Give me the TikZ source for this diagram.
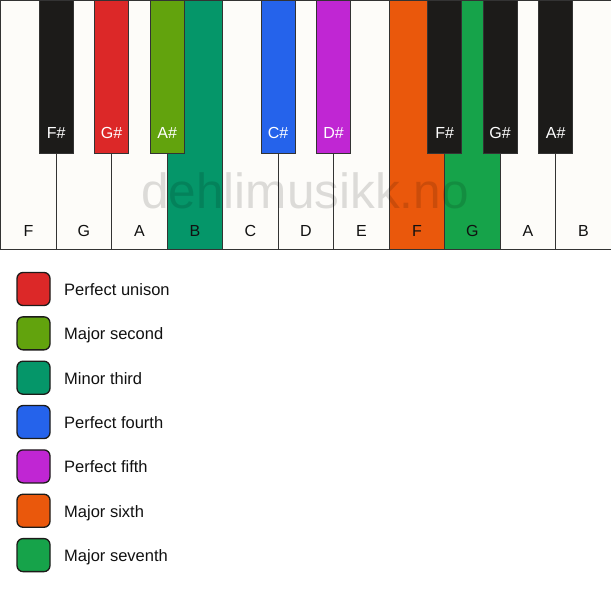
\documentclass[tikz,border=0pt]{standalone}
\usepackage{fontspec}
\setmainfont{Liberation Sans}
\usetikzlibrary{calc}
\definecolor{keyline}{HTML}{333333}
\definecolor{ivory}{HTML}{FDFCF9}
\definecolor{ebony}{HTML}{1C1B19}
\definecolor{cred}{HTML}{DC2828}
\definecolor{clime}{HTML}{62A30D}
\definecolor{cteal}{HTML}{059669}
\definecolor{cblue}{HTML}{2563EB}
\definecolor{cfuch}{HTML}{C026D3}
\definecolor{corange}{HTML}{EA580C}
\definecolor{cgreen}{HTML}{16A34A}
\definecolor{txt}{HTML}{111111}
\tikzset{
  wkey/.style={draw=keyline, line width=1.3pt, rectangle, anchor=north west, minimum width=55.5pt, minimum height=249pt, inner sep=0pt, outer sep=0pt},
  bkey/.style={draw=keyline, line width=1.3pt, rectangle, anchor=north, minimum width=34pt, minimum height=153pt, inner sep=0pt, outer sep=0pt},
  wlab/.style={font=\fontsize{16}{16}\selectfont, text=txt, anchor=base, inner sep=0pt},
  blab/.style={font=\fontsize{16}{16}\selectfont, text=white, anchor=base, inner sep=0pt},
  swatch/.style={draw=ebony, line width=1.3pt, rectangle, rounded corners=6pt, minimum width=33pt, minimum height=33pt, inner sep=0pt},
  legtext/.style={font=\fontsize{16.5}{16.5}\selectfont, text=txt, anchor=base west, inner sep=0pt},
  wmtext/.style={font=\fontsize{49.5}{49.5}\selectfont, text=black, text opacity=0.13, anchor=base, inner sep=0pt}
}
\begin{document}
\begin{tikzpicture}[x=1pt,y=-1pt]
\useasboundingbox (0,0) rectangle (611,594);
\fill[white] (0,0) rectangle (611,594);
% white keys
\foreach \i/\n/\c in {0/F/ivory,1/G/ivory,2/A/ivory,3/B/cteal,4/C/ivory,5/D/ivory,6/E/ivory,7/F/corange,8/G/cgreen,9/A/ivory,10/B/ivory}{
  \node[wkey, fill=\c] (w\i) at ({\i*55.5+0.65},0.65) {};
  \node[wlab] (wl\i) at ({\i*55.5+28.4},236) {\n};
}
% watermark
\node[wmtext] (wm) at (305,208) {dehlimusikk.no};
% black keys
\foreach \k/\n/\c in {1/F\#/ebony,2/G\#/cred,3/A\#/clime,5/C\#/cblue,6/D\#/cfuch,8/F\#/ebony,9/G\#/ebony,10/A\#/ebony}{
  \node[bkey, fill=\c] (b\k) at ({\k*55.5+0.65},0.65) {};
  \node[blab] (bl\k) at ({\k*55.5+0.65},139) {\n};
}
% legend
\foreach \j/\c/\t in {0/cred/Perfect unison,1/clime/Major second,2/cteal/Minor third,3/cblue/Perfect fourth,4/cfuch/Perfect fifth,5/corange/Major sixth,6/cgreen/Major seventh}{
  \node[swatch, fill=\c] (s\j) at (33.5,{289+\j*44.35}) {};
  \node[legtext] (t\j) at (64,{295.5+\j*44.35}) {\t};
}
\end{tikzpicture}
\end{document}
